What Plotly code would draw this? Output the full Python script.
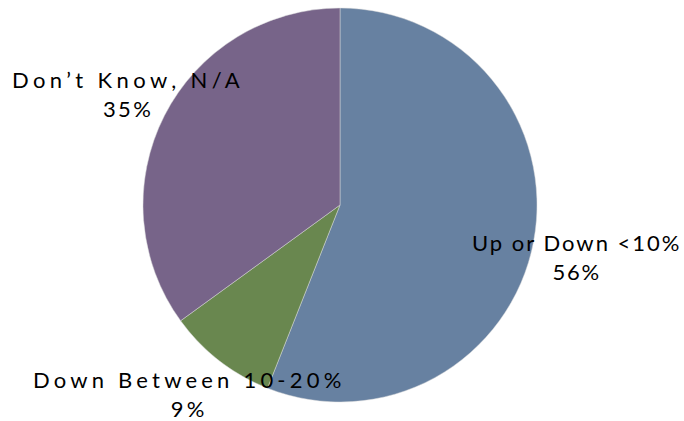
import plotly.graph_objects as go

# Survey responses
labels = ["Up or Down <10%", "Down Between 10-20%", "Don\u2019t Know, N/A"]
values = [56, 9, 35]
colors = ["#6781A1", "#69874F", "#776489"]

# Label anchor points (pixels) and per-label letter spacing (px) for name / percent lines
label_x = [576, 189, 128]
label_y = [257, 394, 94]
name_spacing = [2.0, 4.2, 4.4]
pct_spacing = [1.7, 3.4, 2.4]

W, H = 684, 421

fig = go.Figure(
    go.Pie(
        labels=labels,
        values=values,
        sort=False,
        direction="clockwise",
        rotation=0,
        textinfo="none",
        hoverinfo="label+percent",
        marker=dict(colors=colors, line=dict(color="rgba(220,220,220,0.8)", width=0.6)),
        domain=dict(x=[143 / W, 537 / W], y=[19 / H, 413 / H]),
        showlegend=False,
    )
)

total = sum(values)
annotations = []
for lab, val, px, py, ns, ps in zip(labels, values, label_x, label_y, name_spacing, pct_spacing):
    pct = round(100 * val / total)
    text = (
        f'<span style="letter-spacing:{ns}px">{lab}</span><br>'
        f'<span style="letter-spacing:{ps}px">{pct}%</span>'
    )
    annotations.append(
        dict(
            x=px / W,
            y=1 - py / H,
            xref="paper",
            yref="paper",
            text=text,
            showarrow=False,
            align="center",
            xanchor="center",
            yanchor="middle",
            font=dict(family="Lato, sans-serif", size=22, color="#000000"),
        )
    )

fig.update_layout(
    width=W,
    height=H,
    margin=dict(l=0, r=0, t=0, b=0),
    paper_bgcolor="white",
    plot_bgcolor="white",
    annotations=annotations,
)

fig.write_html("out.html")
